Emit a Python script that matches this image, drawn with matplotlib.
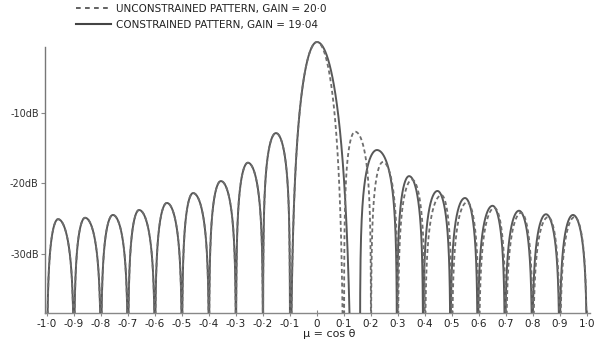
import numpy as np
import matplotlib
matplotlib.use("Agg")
import matplotlib.pyplot as plt
from matplotlib.lines import Line2D

# ---- data: lobes as (start null, peak position, end null, peak level dB)
unc_start = [-1.0, -0.9, -0.8, -0.7, -0.6, -0.5, -0.4, -0.3, -0.2, -0.1,
             0.1, 0.2, 0.3, 0.4, 0.5, 0.6, 0.7, 0.8, 0.9]
unc_peak = [-0.959, -0.859, -0.756, -0.659, -0.556, -0.459, -0.356, -0.256, -0.152, 0.0,
            0.141, 0.244, 0.352, 0.461, 0.556, 0.657, 0.756, 0.856, 0.954]
unc_end = [-0.9, -0.8, -0.7, -0.6, -0.5, -0.4, -0.3, -0.2, -0.1, 0.1,
           0.2, 0.3, 0.4, 0.5, 0.6, 0.7, 0.8, 0.9, 1.0]
unc_level = [-25.1, -24.9, -24.5, -23.8, -22.8, -21.4, -19.7, -17.1, -12.9, 0.0,
             -12.7, -17.0, -19.5, -21.7, -22.7, -23.5, -24.2, -24.8, -24.8]

con_start = [-1.0, -0.9, -0.8, -0.7, -0.6, -0.5, -0.4, -0.3, -0.2, -0.1,
             0.159, 0.296, 0.393, 0.494, 0.595, 0.696, 0.797, 0.898]
con_peak = [-0.959, -0.859, -0.756, -0.659, -0.556, -0.459, -0.356, -0.256, -0.152, 0.0,
            0.222, 0.341, 0.446, 0.548, 0.650, 0.748, 0.848, 0.948]
con_end = [-0.9, -0.8, -0.7, -0.6, -0.5, -0.4, -0.3, -0.2, -0.1, 0.133,
           0.296, 0.393, 0.494, 0.595, 0.696, 0.797, 0.898, 1.0]
con_level = [-25.1, -24.9, -24.5, -23.8, -22.8, -21.4, -19.7, -17.1, -12.9, 0.0,
             -15.3, -19.0, -21.1, -22.1, -23.2, -23.9, -24.4, -24.5]

x_ticks = [-1.0, -0.9, -0.8, -0.7, -0.6, -0.5, -0.4, -0.3, -0.2, -0.1,
           0.0, 0.1, 0.2, 0.3, 0.4, 0.5, 0.6, 0.7, 0.8, 0.9, 1.0]
x_ticklabels = ["-1·0", "-0·9", "-0·8", "-0·7", "-0·6", "-0·5", "-0·4", "-0·3", "-0·2", "-0·1",
                "0", "0·1", "0·2", "0·3", "0·4", "0·5", "0·6", "0·7", "0·8", "0·9", "1·0"]
y_ticks = [-10, -20, -30]
y_ticklabels = ["-10dB", "-20dB", "-30dB"]
labels = ["UNCONSTRAINED PATTERN, GAIN = 20·0", "CONSTRAINED PATTERN, GAIN = 19·04"]


def lobe_curve(starts, peaks, ends, levels):
    xs, ys = [], []
    for a, p, b, lev in zip(starts, peaks, ends, levels):
        m = np.linspace(a, b, 300)
        left = m < p
        u = np.where(left, (p - m) / (p - a), (m - p) / (b - p))
        u = np.clip(u, 0, 1)
        c = np.cos(np.pi * u / 2)
        with np.errstate(divide="ignore"):
            ldb = 20 * np.log10(c)
        if lev > -5:   # main lobe shape: wider side falls off more steeply
            k_l = 1.8 * ((p - a) / 0.1) ** 0.9
            k_r = 1.8 * ((b - p) / 0.1) ** 0.9
            d = lev + np.where(left, k_l, k_r) * ldb
        else:          # side lobe shape
            d = lev + 0.62 * ldb
        d = np.maximum(d, -60)
        xs.append(m)
        ys.append(d)
    return np.concatenate(xs), np.concatenate(ys)


fig = plt.figure(figsize=(5.97, 3.48), dpi=100)
ax = fig.add_axes([45 / 597, 35 / 348, 545 / 597, 275 / 348])

cx, cy = lobe_curve(con_start, con_peak, con_end, con_level)
ux, uy = lobe_curve(unc_start, unc_peak, unc_end, unc_level)
ax.plot(cx, cy, color="#585858", lw=1.4, solid_capstyle="butt", zorder=3)
ax.plot(ux, uy, color="#6e6e6e", lw=1.3, dashes=(2.2, 1.6), zorder=4)

ax.set_xlim(-1.0074, 1.011)
ax.set_ylim(-38.39, 0.57)

for s in ["top", "right"]:
    ax.spines[s].set_visible(False)
ax.spines["left"].set_bounds(-38.39, -0.71)
ax.spines["left"].set_color("#777777")
ax.spines["bottom"].set_color("#888888")
ax.spines["left"].set_linewidth(1.0)
ax.spines["bottom"].set_linewidth(1.0)

ax.set_xticks(x_ticks)
ax.set_xticklabels(x_ticklabels)
ax.set_yticks(y_ticks)
ax.set_yticklabels(y_ticklabels)
ax.tick_params(axis="x", direction="inout", length=4, width=0.8, colors="#888888",
               labelcolor="#222222", labelsize=7.5, pad=2)
ax.tick_params(axis="y", direction="out", length=3, width=0.8, colors="#888888",
               labelcolor="#333333", labelsize=7, pad=1.5)

fig.text(303 / 597, 1 - 334 / 348, "μ = cos θ", fontsize=8, color="#222222",
         ha="left", va="center")

h1 = Line2D([], [], color="#555555", lw=1.3, dashes=(2.6, 2.4))
h2 = Line2D([], [], color="#444444", lw=1.5)
fig.legend([h1, h2], labels, loc="upper left", bbox_to_anchor=(76 / 597, 1 - 4 / 348),
           frameon=False, fontsize=7.5, handlelength=3.4, handletextpad=0.4,
           labelspacing=0.55, borderpad=0.0, borderaxespad=0.0, labelcolor="#222222")

fig.savefig("out.png", dpi=100)
